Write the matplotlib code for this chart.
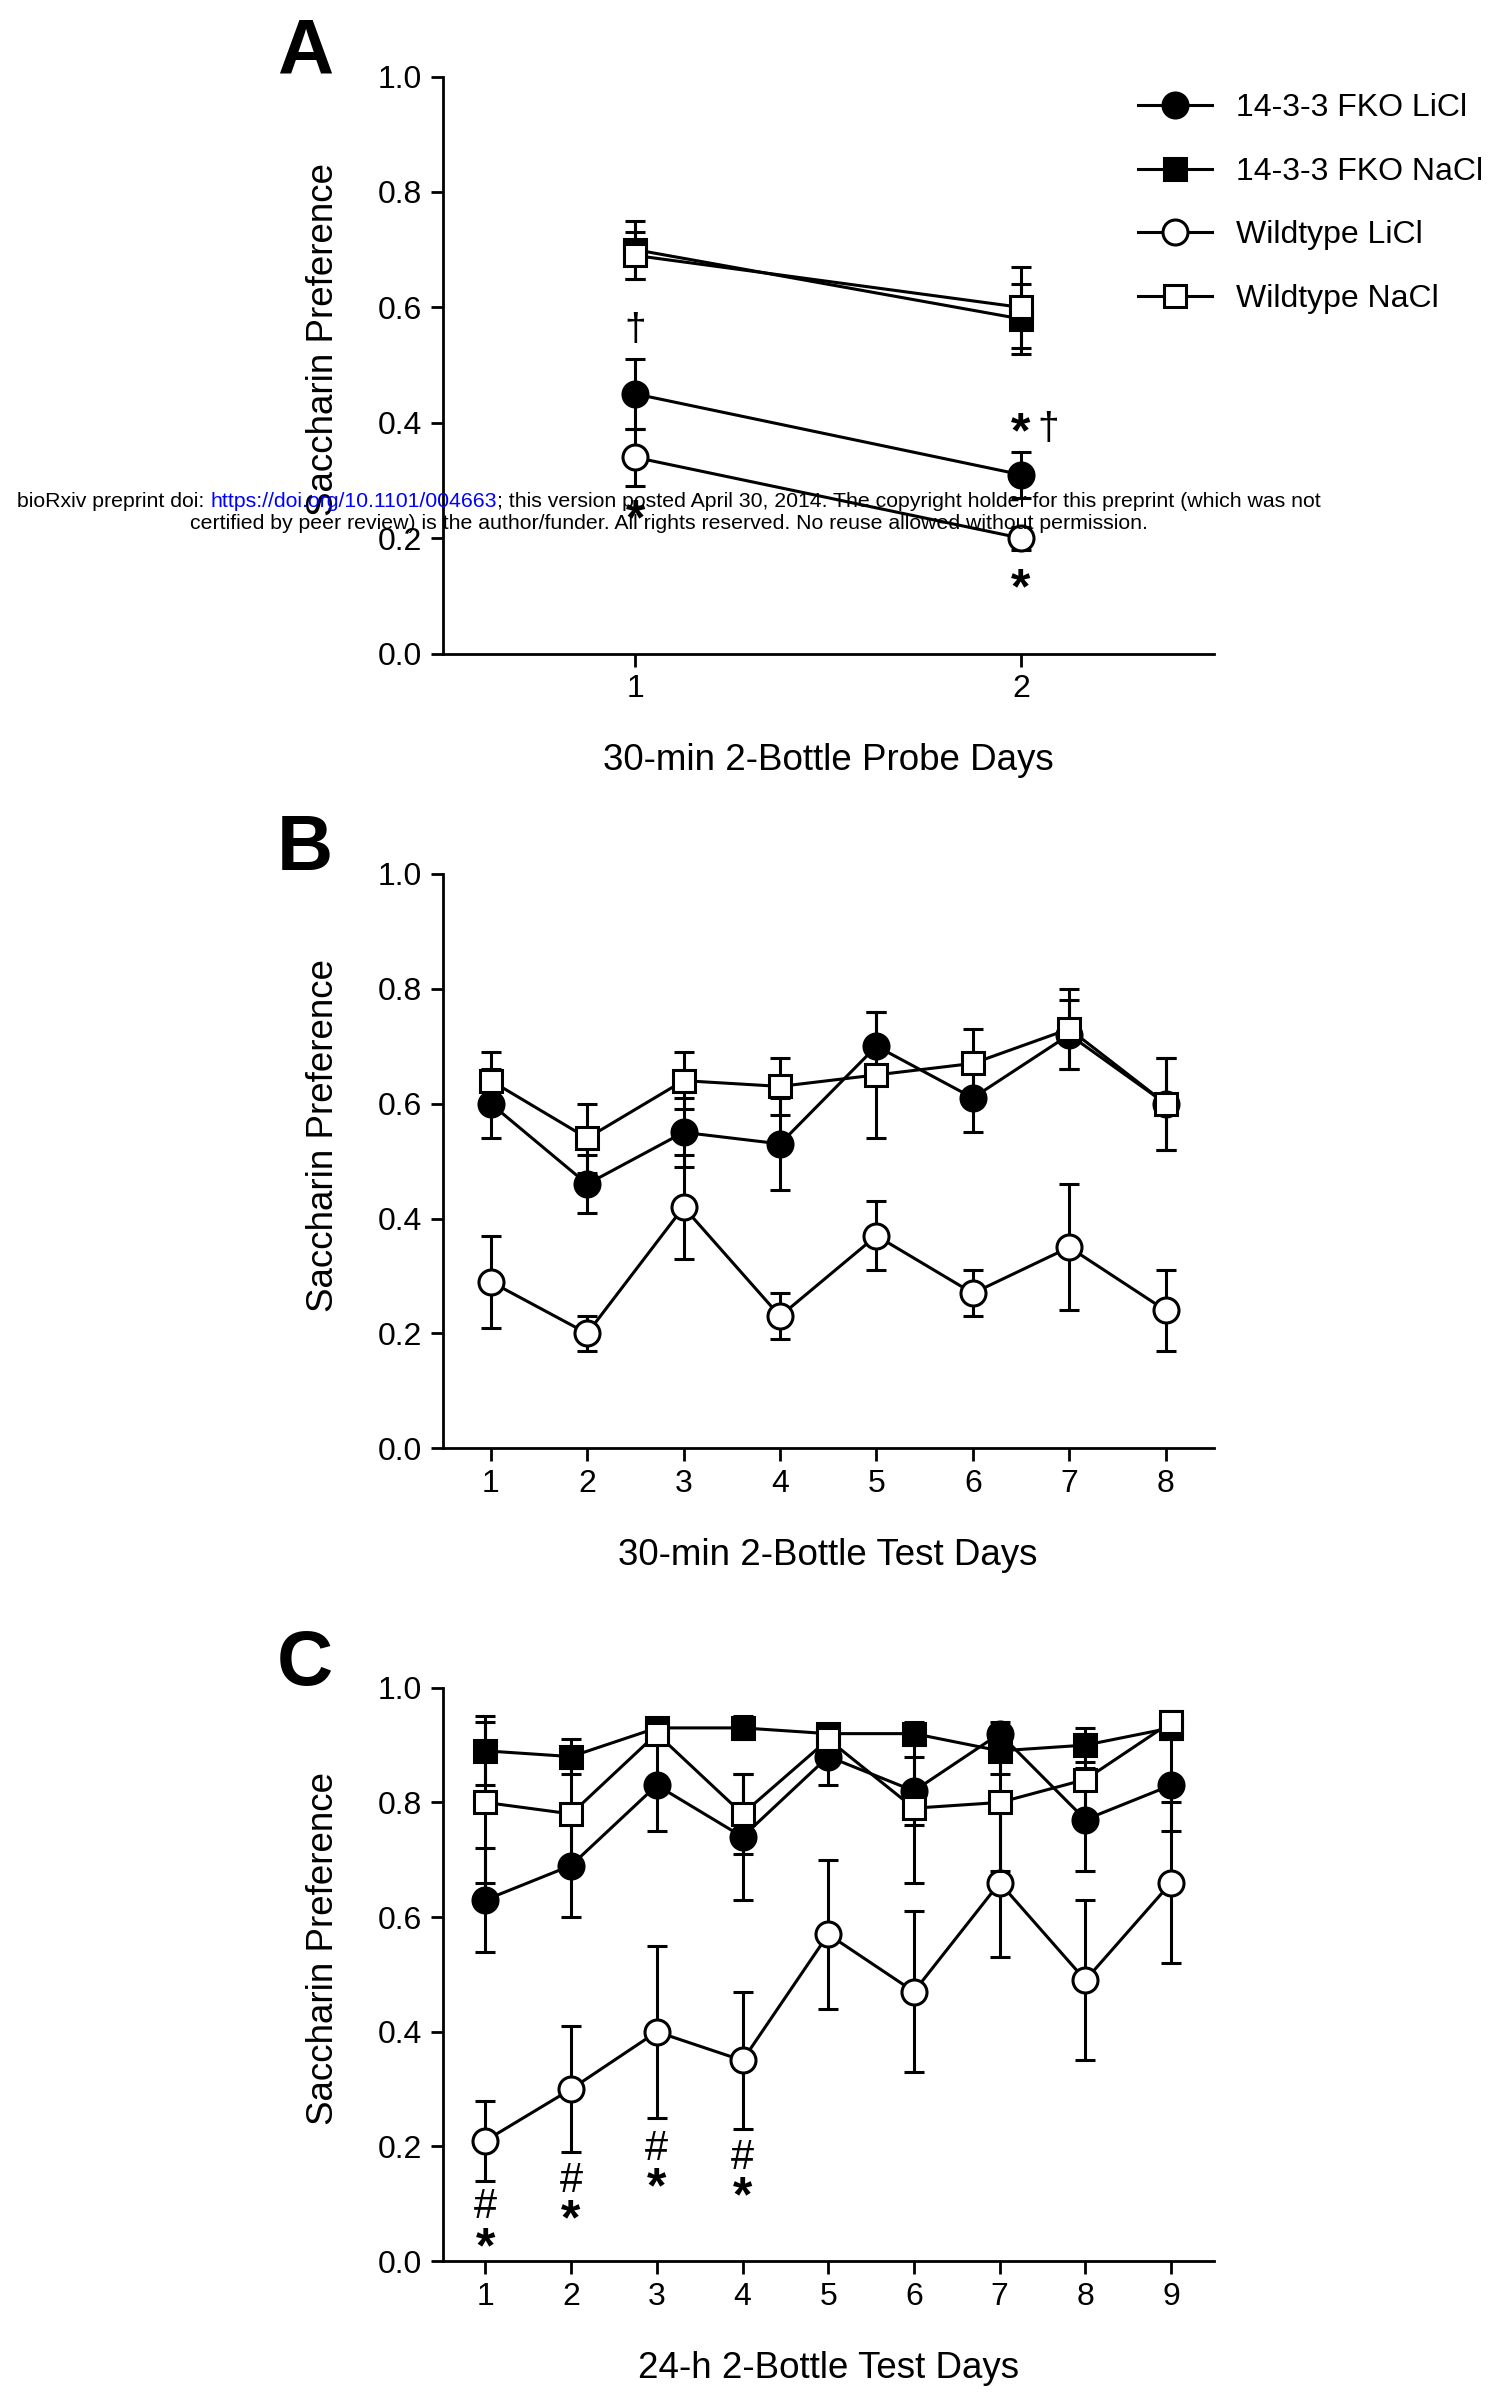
"""Saccharin preference, 14-3-3 FKO vs wildtype (panels A-C)."""
import matplotlib
matplotlib.use("Agg")
import matplotlib.pyplot as plt
from matplotlib.lines import Line2D
import numpy as np

plt.rcParams["font.family"] = ["Liberation Sans", "DejaVu Sans"]

groups = ["14-3-3 FKO LiCl", "14-3-3 FKO NaCl", "Wildtype LiCl", "Wildtype NaCl"]

# panel A: 30-min probe days
days_a = [1, 2]
a_fko_licl = [0.45, 0.31]
a_fko_licl_err = [0.06, 0.04]
a_fko_nacl = [0.70, 0.58]
a_fko_nacl_err = [0.05, 0.06]
a_wt_licl = [0.34, 0.20]
a_wt_licl_err = [0.05, 0.02]
a_wt_nacl = [0.69, 0.60]
a_wt_nacl_err = [0.04, 0.07]

# panel B: 30-min test days (no FKO NaCl group)
days_b = [1, 2, 3, 4, 5, 6, 7, 8]
b_fko_licl = [0.60, 0.46, 0.55, 0.53, 0.70, 0.61, 0.72, 0.60]
b_fko_licl_err = [0.06, 0.05, 0.06, 0.08, 0.06, 0.06, 0.06, 0.08]
b_wt_licl = [0.29, 0.20, 0.42, 0.23, 0.37, 0.27, 0.35, 0.24]
b_wt_licl_err = [0.08, 0.03, 0.09, 0.04, 0.06, 0.04, 0.11, 0.07]
b_wt_nacl = [0.64, 0.54, 0.64, 0.63, 0.65, 0.67, 0.73, 0.60]
b_wt_nacl_err = [0.05, 0.06, 0.05, 0.05, 0.11, 0.06, 0.07, 0.08]

# panel C: 24-h test days
days_c = [1, 2, 3, 4, 5, 6, 7, 8, 9]
c_fko_licl = [0.63, 0.69, 0.83, 0.74, 0.88, 0.82, 0.92, 0.77, 0.83]
c_fko_licl_err = [0.09, 0.09, 0.08, 0.11, 0.05, 0.06, 0.02, 0.09, 0.08]
c_fko_nacl = [0.89, 0.88, 0.93, 0.93, 0.92, 0.92, 0.89, 0.90, 0.93]
c_fko_nacl_err = [0.06, 0.03, 0.01, 0.02, 0.01, 0.02, 0.04, 0.03, 0.02]
c_wt_licl = [0.21, 0.30, 0.40, 0.35, 0.57, 0.47, 0.66, 0.49, 0.66]
c_wt_licl_err = [0.07, 0.11, 0.15, 0.12, 0.13, 0.14, 0.13, 0.14, 0.14]
c_wt_nacl = [0.80, 0.78, 0.92, 0.78, 0.91, 0.79, 0.80, 0.84, 0.94]
c_wt_nacl_err = [0.14, 0.08, 0.02, 0.07, 0.02, 0.13, 0.12, 0.08, 0.02]

STYLE = {
    "14-3-3 FKO LiCl": dict(marker="o", mfc="black"),
    "14-3-3 FKO NaCl": dict(marker="s", mfc="black"),
    "Wildtype LiCl": dict(marker="o", mfc="white"),
    "Wildtype NaCl": dict(marker="s", mfc="white"),
}
MS = {"o": 18, "s": 16}
LW = 2.2
FS = 23
LABEL_FS = 26.5


def draw_series(ax, x, y, err, name, z):
    st = STYLE[name]
    ax.errorbar(x, y, yerr=err, color="black", lw=LW, elinewidth=LW,
                capsize=7, capthick=LW, marker=st["marker"], mfc=st["mfc"],
                mec="black", mew=LW, ms=MS[st["marker"]], zorder=z)


def style_axes(ax, days, xlabel, letter):
    ax.set_ylim(0, 1.0)
    ax.set_xlim(days[0] - 0.5, days[-1] + 0.5)
    ax.set_xticks(days)
    ax.set_yticks(np.arange(0, 1.01, 0.2))
    ax.set_yticklabels([f"{v:.1f}" for v in np.arange(0, 1.01, 0.2)])
    ax.spines["top"].set_visible(False)
    ax.spines["right"].set_visible(False)
    ax.spines["left"].set_linewidth(2)
    ax.spines["bottom"].set_linewidth(2)
    ax.tick_params(width=2, length=9, labelsize=FS, pad=6)
    ax.set_ylabel("Saccharin Preference", fontsize=LABEL_FS, labelpad=26,
                  y=0.545)
    ax.set_xlabel(xlabel, fontsize=LABEL_FS, labelpad=28)
    ax.text(-0.215, 1.105, letter, transform=ax.transAxes, fontsize=56,
            fontweight="bold", ha="left", va="top")


fig = plt.figure(figsize=(14.95, 23.94), dpi=100)
ax_a = fig.add_axes([0.296, 0.727, 0.516, 0.241])
ax_b = fig.add_axes([0.296, 0.395, 0.516, 0.240])
ax_c = fig.add_axes([0.296, 0.0555, 0.516, 0.2395])

# panel A
draw_series(ax_a, days_a, a_fko_licl, a_fko_licl_err, groups[0], 4)
draw_series(ax_a, days_a, a_fko_nacl, a_fko_nacl_err, groups[1], 3)
draw_series(ax_a, days_a, a_wt_licl, a_wt_licl_err, groups[2], 5)
draw_series(ax_a, days_a, a_wt_nacl, a_wt_nacl_err, groups[3], 6)
style_axes(ax_a, days_a, "30-min 2-Bottle Probe Days", "A")
for x, y, s in [(1, 0.56, "\u2020"), (1, 0.23, "*"), (2, 0.38, "*"),
                (2.07, 0.39, "\u2020"), (2, 0.11, "*")]:
    if s == "*":
        ax_a.text(x, y, s, fontsize=36, fontweight="bold", ha="center",
                  va="center")
    else:
        ax_a.text(x, y, s, fontsize=28, ha="center", va="center")

# panel B
draw_series(ax_b, days_b, b_fko_licl, b_fko_licl_err, groups[0], 4)
draw_series(ax_b, days_b, b_wt_licl, b_wt_licl_err, groups[2], 5)
draw_series(ax_b, days_b, b_wt_nacl, b_wt_nacl_err, groups[3], 6)
style_axes(ax_b, days_b, "30-min 2-Bottle Test Days", "B")

# panel C
draw_series(ax_c, days_c, c_fko_licl, c_fko_licl_err, groups[0], 4)
draw_series(ax_c, days_c, c_fko_nacl, c_fko_nacl_err, groups[1], 3)
draw_series(ax_c, days_c, c_wt_licl, c_wt_licl_err, groups[2], 5)
draw_series(ax_c, days_c, c_wt_nacl, c_wt_nacl_err, groups[3], 6)
style_axes(ax_c, days_c, "24-h 2-Bottle Test Days", "C")
marks_c = [(1, 0.095, 0.02), (2, 0.14, 0.07), (3, 0.195, 0.125),
           (4, 0.18, 0.11)]
for x, yh, ys in marks_c:
    ax_c.text(x, yh, "#", fontsize=30, ha="center", va="center")
    ax_c.text(x, ys, "*", fontsize=36, fontweight="bold", ha="center",
              va="center")

# legend (line + marker only, no error bars)
handles = [Line2D([], [], color="black", lw=LW, marker=STYLE[g]["marker"],
                  mfc=STYLE[g]["mfc"], mec="black", mew=LW,
                  ms=MS[STYLE[g]["marker"]]) for g in groups]
fig.legend(handles, groups, loc="upper left", bbox_to_anchor=(0.7615, 0.961),
           frameon=False, fontsize=FS, handlelength=2.3, labelspacing=1.05,
           handletextpad=0.75, borderpad=0, borderaxespad=0)

# preprint notice
line1 = ["bioRxiv preprint doi: ", "https://doi.org/10.1101/004663",
         "; this version posted April 30, 2014. The copyright holder for "
         "this preprint (which was not"]
colors1 = ["black", "blue", "black"]
line2 = ("certified by peer review) is the author/funder. All rights reserved."
         " No reuse allowed without permission.")
wm_fs = 15.3
fig.canvas.draw()
renderer = fig.canvas.get_renderer()
pieces = [fig.text(0, 0.7907, s, color=c, fontsize=wm_fs, va="center")
          for s, c in zip(line1, colors1)]
widths = [p.get_window_extent(renderer).width for p in pieces]
x0 = 0.4475 * fig.bbox.width - sum(widths) / 2
for p, w in zip(pieces, widths):
    p.set_x(x0 / fig.bbox.width)
    x0 += w
fig.text(0.4475, 0.7815, line2, fontsize=wm_fs, ha="center", va="center")

fig.savefig("out.png", dpi=100)
